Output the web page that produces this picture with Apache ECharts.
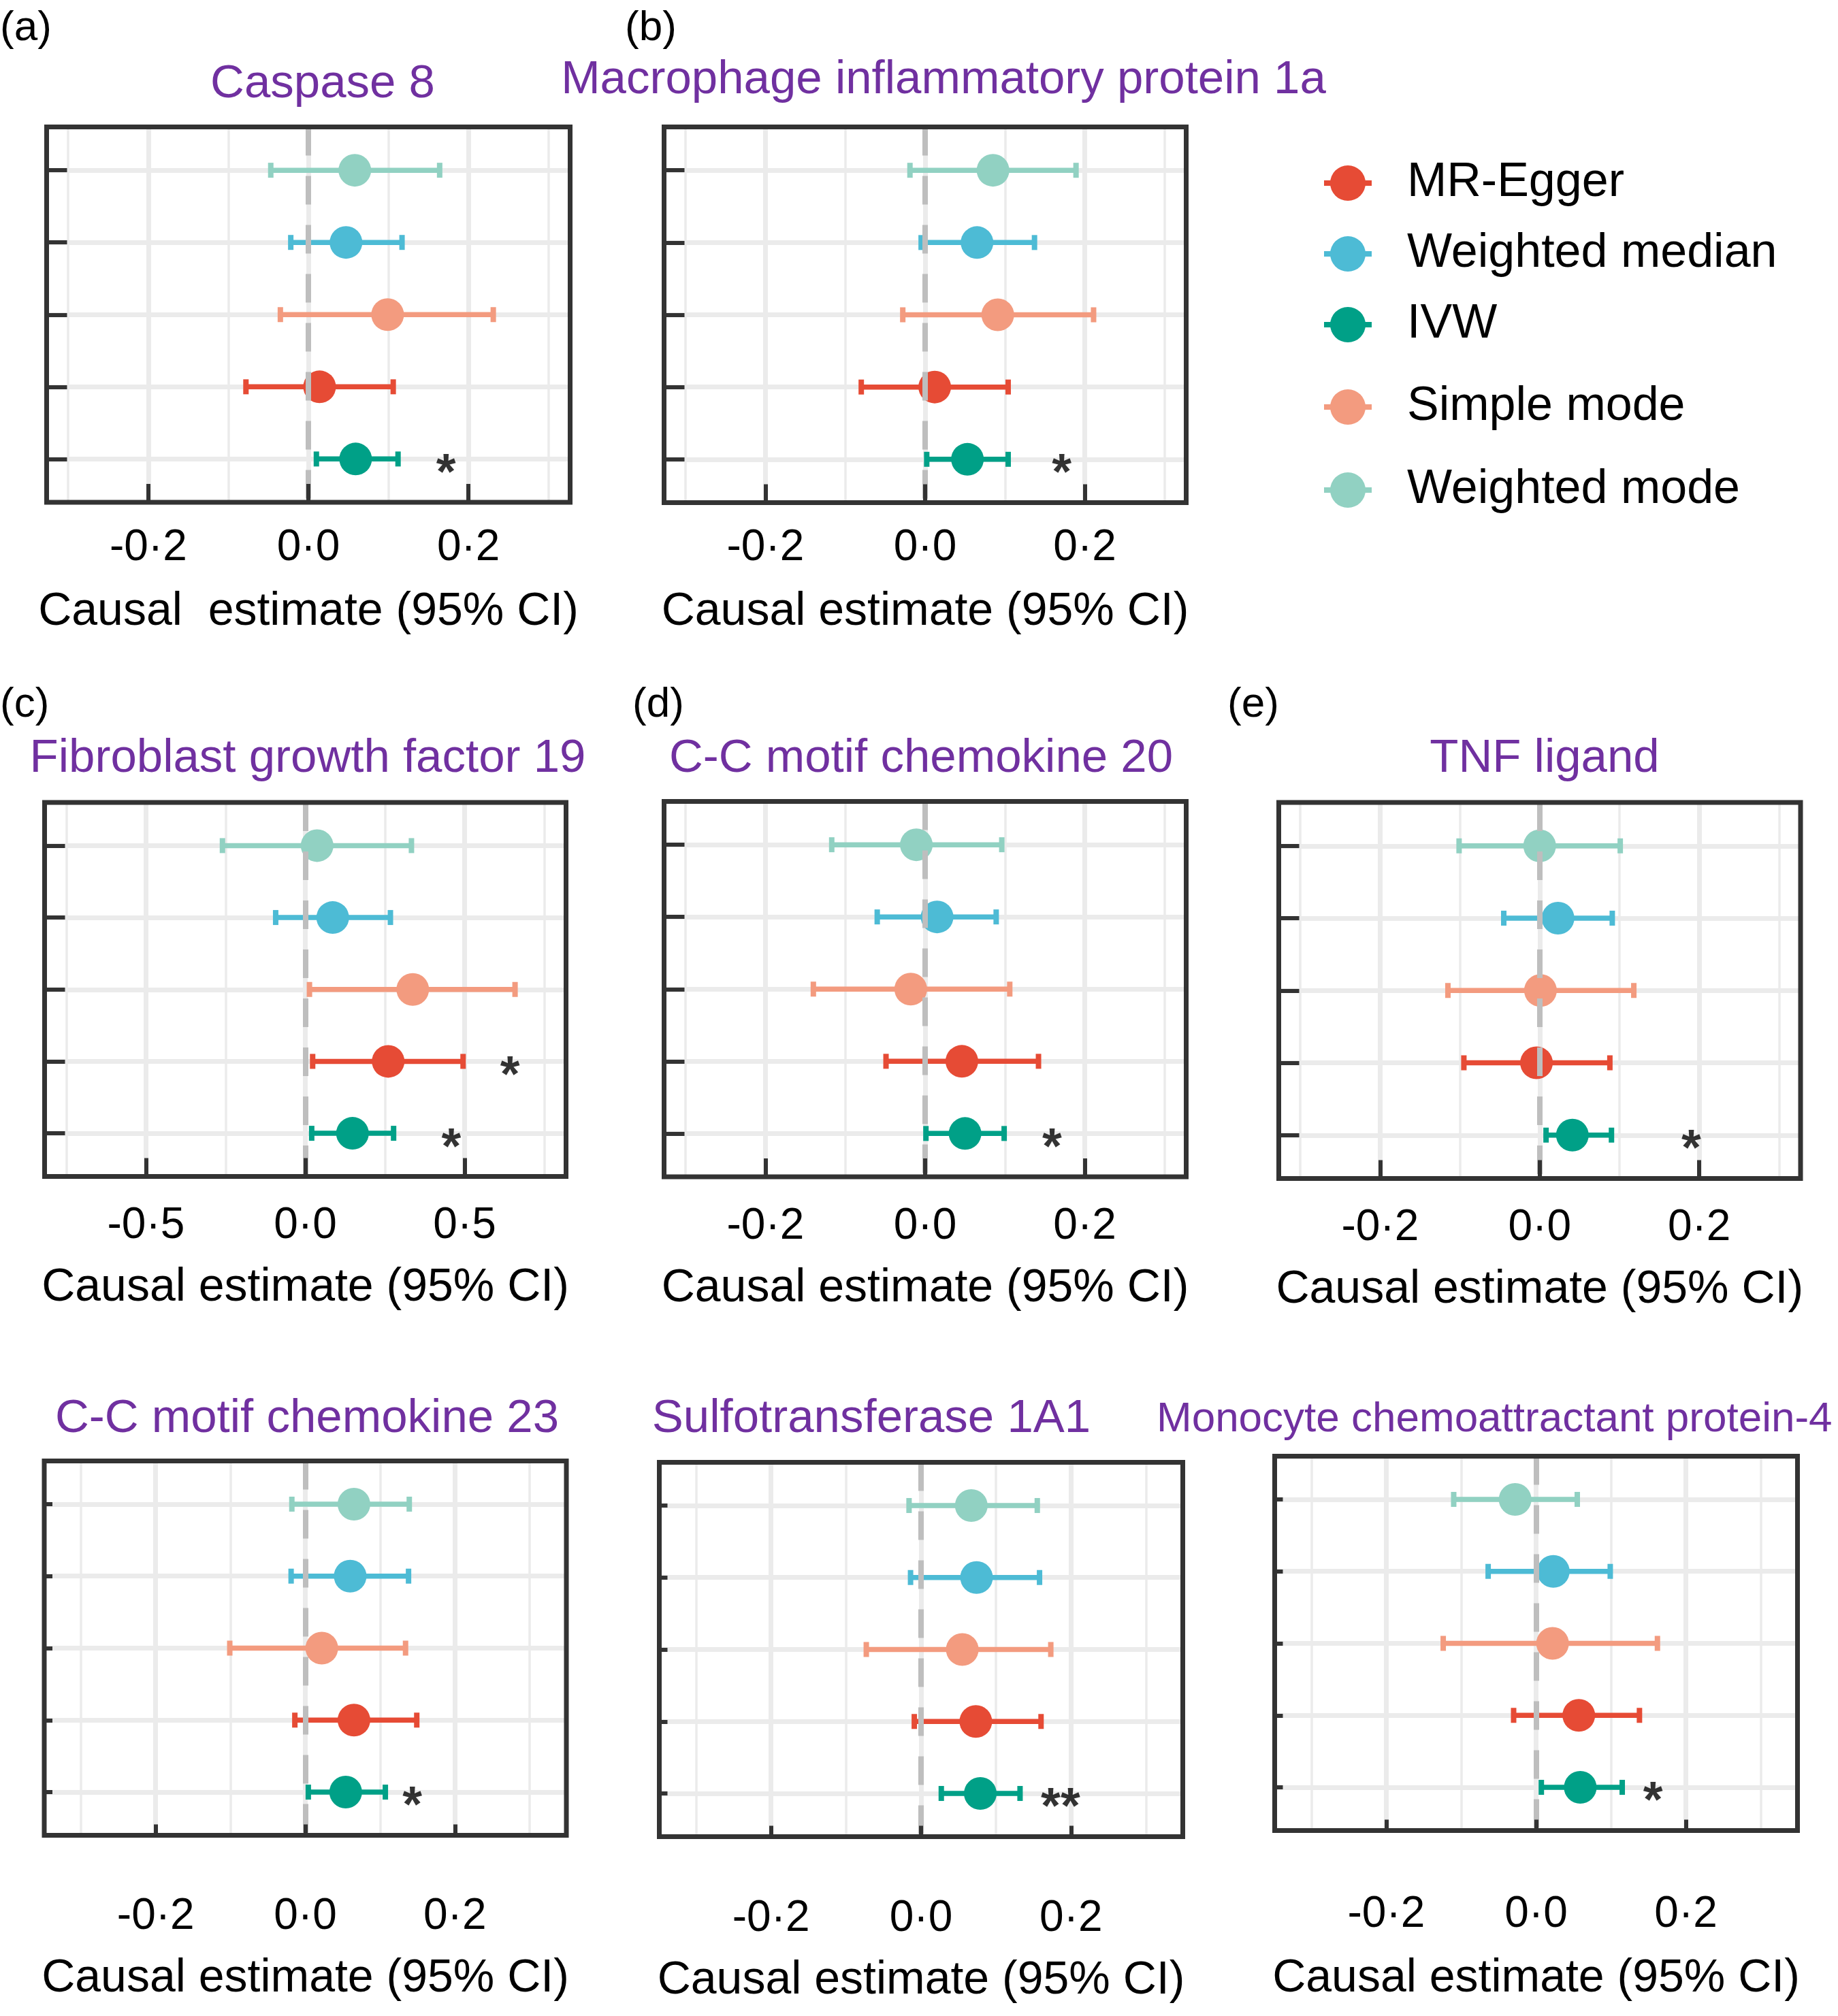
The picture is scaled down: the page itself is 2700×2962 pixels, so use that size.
<!DOCTYPE html>
<html>
<head>
<meta charset="utf-8">
<title>MR forest plots</title>
<script src="https://cdn.jsdelivr.net/npm/echarts@6/dist/echarts.min.js"></script>
<style>
  html, body { margin: 0; padding: 0; background: #fff; }
  #chart { width: 2700px; height: 2962px; }
</style>
</head>
<body>
<div id="chart"></div>
<script>
'use strict';

// rows, top to bottom
const methods = ['Weighted mode', 'Weighted median', 'Simple mode', 'MR-Egger', 'IVW'];
const methodColors = ['#91D1C2', '#4DBBD5', '#F39B7F', '#E64B35', '#00A087'];
const rowIdx = [0, 1, 2, 3, 4];
const legendFirst = ['MR-Egger', 'Weighted median', 'IVW'];
const legendSecond = ['Simple mode', 'Weighted mode'];

const panelTitles = [
    'Caspase 8',
    'Macrophage inflammatory protein 1a',
    'Fibroblast growth factor 19',
    'C-C motif chemokine 20',
    'TNF ligand',
    'C-C motif chemokine 23',
    'Sulfotransferase 1A1',
    'Monocyte chemoattractant protein-4'
];
const panelLetters = ['(a)', '(b)', '(c)', '(d)', '(e)'];

const ticksNarrow = [-0.2, 0, 0.2];
const minorNarrow = [-0.3, -0.1, 0.1, 0.3];
const ticksWide = [-0.5, 0, 0.5];
const minorWide = [-0.75, -0.25, 0.25, 0.75];

// estimate, lower and upper CI, same row order as methods
const caspase8Est = [0.058, 0.047, 0.099, 0.014, 0.059];
const caspase8Lo = [-0.047, -0.022, -0.035, -0.078, 0.010];
const caspase8Hi = [0.164, 0.117, 0.231, 0.106, 0.112];
const caspase8Stars = [[0.172, 4, '*']];

const mip1aEst = [0.085, 0.065, 0.091, 0.012, 0.053];
const mip1aLo = [-0.019, -0.005, -0.028, -0.080, 0.002];
const mip1aHi = [0.189, 0.137, 0.211, 0.104, 0.104];
const mip1aStars = [[0.171, 4, '*']];

const fgf19Est = [0.037, 0.086, 0.337, 0.260, 0.148];
const fgf19Lo = [-0.260, -0.093, 0.013, 0.023, 0.020];
const fgf19Hi = [0.333, 0.267, 0.658, 0.495, 0.277];
const fgf19Stars = [[0.642, 3, '*'], [0.458, 4, '*']];

const ccl20Est = [-0.011, 0.015, -0.018, 0.046, 0.050];
const ccl20Lo = [-0.117, -0.060, -0.140, -0.049, 0.001];
const ccl20Hi = [0.096, 0.089, 0.106, 0.142, 0.099];
const ccl20Stars = [[0.159, 4, '*']];

const tnfEst = [0.000, 0.023, 0.001, -0.004, 0.041];
const tnfLo = [-0.101, -0.045, -0.115, -0.095, 0.008];
const tnfHi = [0.101, 0.091, 0.118, 0.088, 0.090];
const tnfStars = [[0.190, 4, '*']];

const ccl23Est = [0.065, 0.060, 0.022, 0.065, 0.054];
const ccl23Lo = [-0.018, -0.019, -0.101, -0.014, 0.004];
const ccl23Hi = [0.139, 0.138, 0.134, 0.149, 0.107];
const ccl23Stars = [[0.143, 4, '*']];

const sult1a1Est = [0.067, 0.074, 0.055, 0.073, 0.079];
const sult1a1Lo = [-0.016, -0.014, -0.073, -0.009, 0.027];
const sult1a1Hi = [0.155, 0.158, 0.173, 0.160, 0.132];
const sult1a1Stars = [[0.186, 4, '**']];

const mcp4Est = [-0.028, 0.023, 0.022, 0.057, 0.059];
const mcp4Lo = [-0.110, -0.064, -0.124, -0.030, 0.007];
const mcp4Hi = [0.055, 0.099, 0.162, 0.138, 0.115];
const mcp4Stars = [[0.156, 4, '*']];

const panelData = [
    [caspase8Est, caspase8Lo, caspase8Hi, caspase8Stars, ticksNarrow, minorNarrow],
    [mip1aEst, mip1aLo, mip1aHi, mip1aStars, ticksNarrow, minorNarrow],
    [fgf19Est, fgf19Lo, fgf19Hi, fgf19Stars, ticksWide, minorWide],
    [ccl20Est, ccl20Lo, ccl20Hi, ccl20Stars, ticksNarrow, minorNarrow],
    [tnfEst, tnfLo, tnfHi, tnfStars, ticksNarrow, minorNarrow],
    [ccl23Est, ccl23Lo, ccl23Hi, ccl23Stars, ticksNarrow, minorNarrow],
    [sult1a1Est, sult1a1Lo, sult1a1Hi, sult1a1Stars, ticksNarrow, minorNarrow],
    [mcp4Est, mcp4Lo, mcp4Hi, mcp4Stars, ticksNarrow, minorNarrow]
];

// layout: grid rect, x range, tick lengths, label margin, name gap
const layout = [
    {left: 68.5, top: 186.5, width: 769, height: 551.5, xMax: 0.327, tick: 27, yTick: 30, margin: 35, gap: 127},
    {left: 975.5, top: 186.5, width: 767, height: 552, xMax: 0.327, tick: 27, yTick: 30, margin: 35, gap: 127},
    {left: 65.5, top: 1179, width: 766, height: 549.5, xMax: 0.818, tick: 27, yTick: 30, margin: 41, gap: 130},
    {left: 975.5, top: 1177.5, width: 767, height: 551.5, xMax: 0.327, tick: 27, yTick: 30, margin: 41, gap: 130},
    {left: 1878.5, top: 1179, width: 766.5, height: 552.5, xMax: 0.327, tick: 27, yTick: 30, margin: 41, gap: 130},
    {left: 65, top: 2146.5, width: 767, height: 550, xMax: 0.349, tick: 16, yTick: 12, margin: 88, gap: 177},
    {left: 968.5, top: 2148.5, width: 769, height: 550, xMax: 0.349, tick: 16, yTick: 12, margin: 89, gap: 178},
    {left: 1872.5, top: 2139.5, width: 768, height: 550, xMax: 0.349, tick: 16, yTick: 12, margin: 92, gap: 184}
];
const titlePos = [[474, 124], [1386, 118], [452, 1115], [1353, 1115], [2269, 1115], [451, 2085], [1280, 2085], [1699, 2086]];
const letterPos = [[0, 42], [918, 42], [0, 1036], [929, 1036], [1803, 1036]];

const FONT = 'Liberation Sans, Arial, sans-serif';
const PURPLE = '#7030A0';
const legendIcon = 'path://M9,26 A26,26 0 1,1 61,26 A26,26 0 1,1 9,26 Z M0,22 L12,22 L12,30 L0,30 Z M58,22 L70,22 L70,30 L58,30 Z';

function fmtTick(v) {
    return v.toFixed(1).replace('.', '\u00b7');
}

function renderErrorBar(params, api) {
    const row = api.value(2);
    const a = api.coord([api.value(0), row]);
    const b = api.coord([api.value(1), row]);
    const color = methodColors[row];
    return {
        type: 'group',
        children: [
            {type: 'line', shape: {x1: a[0], y1: a[1], x2: b[0], y2: b[1]}, style: {stroke: color, lineWidth: 7.5}},
            {type: 'line', shape: {x1: a[0], y1: a[1] - 11, x2: a[0], y2: a[1] + 11}, style: {stroke: color, lineWidth: 8}},
            {type: 'line', shape: {x1: b[0], y1: b[1] - 11, x2: b[0], y2: b[1] + 11}, style: {stroke: color, lineWidth: 8}}
        ]
    };
}

let grids = [];
let xAxes = [];
let yAxes = [];
let series = [];
let graphics = [];

panelData.forEach(function (pd, p) {
    const est = pd[0], lo = pd[1], hi = pd[2], stars = pd[3], major = pd[4], minor = pd[5];
    const L = layout[p];

    grids.push({
        left: L.left, top: L.top, width: L.width, height: L.height,
        show: true, borderColor: '#333333', borderWidth: 7,
        backgroundColor: 'transparent', z: 5
    });

    xAxes.push({
        gridIndex: p,
        type: 'value',
        position: 'bottom',
        min: -L.xMax,
        max: L.xMax,
        z: 6,
        axisLine: {show: false, onZero: false},
        splitLine: {show: false},
        axisTick: {
            show: true, inside: true, length: L.tick,
            customValues: major,
            lineStyle: {color: '#333333', width: 6}
        },
        axisLabel: {
            customValues: major,
            formatter: fmtTick,
            margin: L.margin,
            fontSize: 64,
            color: '#000',
            fontFamily: FONT
        },
        name: p === 0 ? 'Causal  estimate (95% CI)' : 'Causal estimate (95% CI)',
        nameLocation: 'middle',
        nameGap: L.gap,
        nameTextStyle: {fontSize: 68, color: '#000', fontFamily: FONT}
    });

    yAxes.push({
        gridIndex: p,
        type: 'value',
        position: 'left',
        min: -0.6,
        max: 4.6,
        inverse: true,
        z: 6,
        axisLine: {show: false, onZero: false},
        splitLine: {show: false},
        axisLabel: {show: false},
        axisTick: {
            show: true, inside: true, length: L.yTick,
            customValues: rowIdx,
            lineStyle: {color: '#333333', width: 6}
        }
    });

    // gridlines and error bars
    series.push({
        type: 'custom',
        xAxisIndex: p,
        yAxisIndex: p,
        z: 2,
        silent: true,
        renderItem: renderErrorBar,
        encode: {x: [0, 1], y: 2},
        data: rowIdx.map(function (i) { return [lo[i], hi[i], i]; }),
        markLine: {
            z: 1,
            silent: true,
            symbol: ['none', 'none'],
            label: {show: false},
            lineStyle: {color: '#EBEBEB', type: 'solid', width: 7},
            data: major.map(function (v) { return {xAxis: v, lineStyle: {width: 7}}; })
                .concat(minor.map(function (v) { return {xAxis: v, lineStyle: {width: 3.5}}; }))
                .concat(rowIdx.map(function (i) { return {yAxis: i, lineStyle: {width: 7}}; }))
        }
    });

    // points, one series per method so the legend can pick them up
    methods.forEach(function (m, i) {
        series.push({
            type: 'scatter',
            name: m,
            xAxisIndex: p,
            yAxisIndex: p,
            z: 3,
            silent: true,
            symbol: 'circle',
            symbolSize: 48,
            itemStyle: {color: methodColors[i], opacity: 1},
            data: [[est[i], i]]
        });
    });

    // significance stars + dashed zero line on top
    series.push({
        type: 'scatter',
        xAxisIndex: p,
        yAxisIndex: p,
        z: 4,
        silent: true,
        symbolSize: 1,
        itemStyle: {color: 'rgba(0,0,0,0)'},
        label: {
            show: true, position: 'inside', offset: [0, 23],
            color: '#000', fontSize: 74, fontWeight: 'bold', fontFamily: FONT,
            formatter: function (d) { return d.data.star; }
        },
        data: stars.map(function (s) { return {value: [s[0], s[1]], star: s[2]}; }),
        markLine: {
            z: 4,
            silent: true,
            symbol: ['none', 'none'],
            label: {show: false},
            lineStyle: {color: '#BEBEBE', type: [42, 30], width: 8},
            data: [{xAxis: 0}]
        }
    });

    const tp = titlePos[p];
    graphics.push({
        type: 'text',
        x: tp[0], y: tp[1],
        style: {
            text: panelTitles[p],
            fill: PURPLE,
            font: (p === 7 ? '62px ' : '69px ') + FONT,
            align: p === 7 ? 'left' : 'center',
            verticalAlign: 'middle',
            textAlign: p === 7 ? 'left' : 'center',
            textVerticalAlign: 'middle'
        }
    });
});

panelLetters.forEach(function (t, i) {
    graphics.push({
        type: 'text',
        x: letterPos[i][0], y: letterPos[i][1],
        style: {
            text: t, fill: '#000', font: '62px ' + FONT,
            align: 'left', verticalAlign: 'middle',
            textAlign: 'left', textVerticalAlign: 'middle'
        }
    });
});

function makeLegend(names, top, gap) {
    return {
        data: names,
        orient: 'vertical',
        left: 1945,
        top: top,
        padding: 0,
        itemGap: gap,
        itemWidth: 164,
        itemHeight: 52,
        icon: legendIcon,
        selectedMode: false,
        textStyle: {fontSize: 70, lineHeight: 52, color: '#000', fontFamily: FONT}
    };
}

let dom = document.getElementById('chart');
let myChart = echarts.init(dom);
let option = {
    backgroundColor: '#ffffff',
    animation: false,
    grid: grids,
    xAxis: xAxes,
    yAxis: yAxes,
    legend: [makeLegend(legendFirst, 234, 34), makeLegend(legendSecond, 563, 52)],
    graphic: graphics,
    series: series
};
myChart.setOption(option);
</script>
</body>
</html>
